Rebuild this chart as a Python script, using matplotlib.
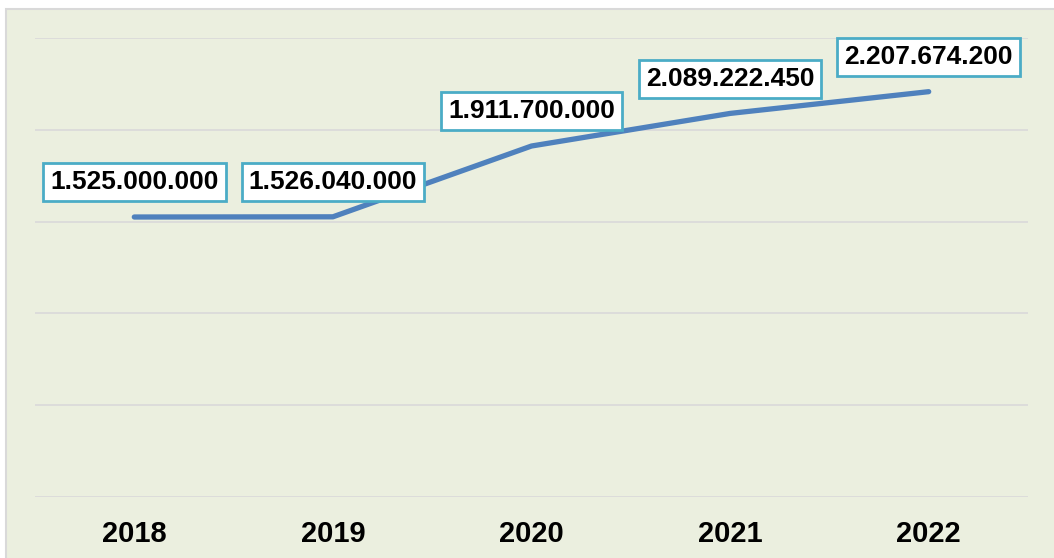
import matplotlib.pyplot as plt
from matplotlib.patches import Rectangle

# Datos
years = ['2018', '2019', '2020', '2021', '2022']
values = [1525000000, 1526040000, 1911700000, 2089222450, 2207674200]


def fmt(v):
    # separador de miles con punto
    return f"{v:,}".replace(',', '.')


plt.rcParams['font.family'] = ['Liberation Sans', 'DejaVu Sans']

fig = plt.figure(figsize=(10.54, 5.58), dpi=100)
fig.patch.set_facecolor('white')

# fondo verde del área del gráfico
bg = Rectangle((6 / 1054, -0.1), 1.2, 1.1 - 9 / 558, transform=fig.transFigure,
               facecolor='#EBEFDF', edgecolor='#D9D9D9', linewidth=1.5, zorder=-10)
fig.patches.append(bg)

ax = fig.add_axes([35 / 1054, 61 / 558, (1028 - 35) / 1054, (497 - 38) / 558])
ax.set_facecolor('none')

x = list(range(len(years)))
ax.plot(x, values, color='#4F81BD', linewidth=3.8, solid_capstyle='round',
        solid_joinstyle='round', zorder=3)

for xi, v in zip(x, values):
    ax.annotate(fmt(v), (xi, v), xytext=(0, 25), textcoords='offset points',
                ha='center', va='center', fontsize=19, fontweight='bold',
                color='black', zorder=5,
                bbox=dict(boxstyle='square,pad=0.27', facecolor='white',
                          edgecolor='#4BACC6', linewidth=2))

ax.set_xlim(-0.5, len(years) - 0.5)
ax.set_ylim(0, 2500000000)
ax.set_yticks([i * 500000000 for i in range(6)])
ax.yaxis.grid(True, color='#D9D9D9', linewidth=1.2)
ax.set_axisbelow(True)
ax.tick_params(axis='y', left=False, labelleft=False)
ax.set_xticks(x)
ax.set_xticklabels(years, fontsize=21, fontweight='bold')
ax.tick_params(axis='x', bottom=False, pad=13)
for s in ax.spines.values():
    s.set_visible(False)

fig.savefig('out.png', dpi=100, facecolor=fig.get_facecolor())
